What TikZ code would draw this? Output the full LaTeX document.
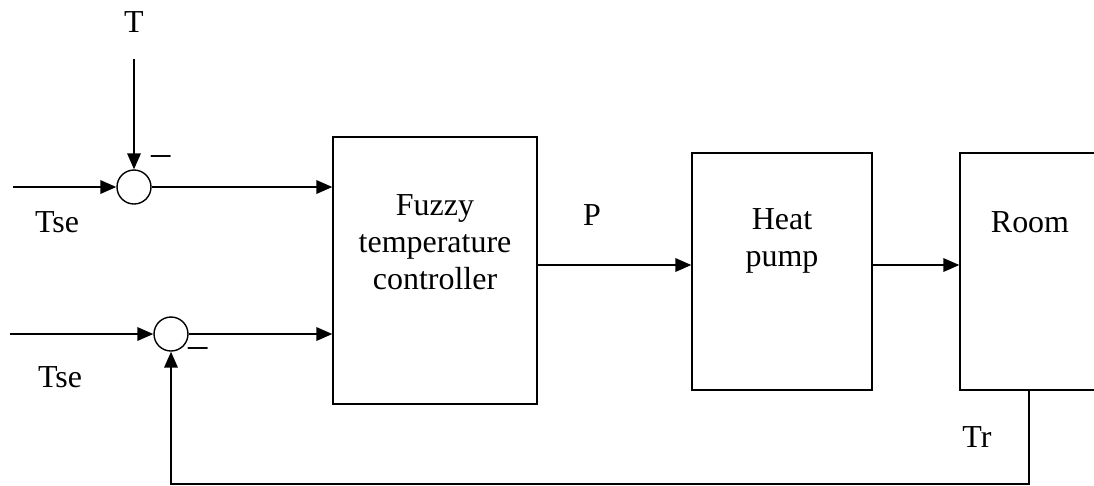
\documentclass[tikz,border=0pt]{standalone}
\usepackage{fontspec}
\setmainfont{Liberation Serif}
\usetikzlibrary{arrows.meta,positioning}

\begin{document}
\begin{tikzpicture}[x=0.02cm, y=-0.02cm,
    block/.style={rectangle, draw, line width=0.8pt, inner sep=0pt},
    sumnode/.style={circle, draw, line width=0.8pt, minimum size=0.68cm, inner sep=0pt},
    lbl/.style={font=\fontsize{18.2}{21}\selectfont, align=center, inner sep=0pt},
    minus/.style={font=\fontsize{22}{22}\selectfont, inner sep=0pt},
    arrow/.style={-{Triangle[length=0.32cm,width=0.27cm]}, line width=1.1pt}
]
    \useasboundingbox (0,0) rectangle (1094,485);

    % Blocks
    \node[block, minimum width=4.08cm, minimum height=5.34cm] (fuzzy) at (435,270.5) {};
    \node[block, minimum width=3.6cm, minimum height=4.74cm] (pump) at (782,271.5) {};
    \node[block, minimum width=2.76cm, minimum height=4.74cm] (room) at (1029,271.5) {};

    % Summing points
    \node[sumnode] (s1) at (134,187) {};
    \node[sumnode] (s2) at (171,334) {};

    % Texts
    \node[lbl] (fuzzytxt) at (435,242) {Fuzzy\\temperature\\controller};
    \node[lbl] (pumptxt) at (782,241) {Heat\\pump};
    \node[lbl] (roomtxt) at (1030,222) {Room};
    \node[lbl] (tlbl) at (134,22) {T};
    \node[lbl] (tse1) at (57,222) {Tse};
    \node[lbl] (tse2) at (60,377) {Tse};
    \node[lbl] (plbl) at (592,215) {P};
    \node[lbl] (trlbl) at (977,437) {Tr};
    \node[minus] (minus1) at (161,161) {–};
    \node[minus] (minus2) at (198,353) {–};

    % Free ends
    \coordinate (in1) at (13,187);
    \coordinate (in2) at (10,334);
    \coordinate (tin) at (134,59);

    % Arrows
    \draw[arrow] (in1) -- (s1);
    \draw[arrow] (tin) -- (s1);
    \draw[arrow] (s1) -- (s1 -| fuzzy.west);
    \draw[arrow] (in2) -- (s2);
    \draw[arrow] (s2) -- (s2 -| fuzzy.west);
    \draw[arrow] ([yshift=0.11cm]fuzzy.east) -- ([yshift=0.11cm]fuzzy.east -| pump.west);
    \draw[arrow] ([yshift=0.13cm]pump.east) -- ([yshift=0.13cm]room.west);
    \draw[arrow] (room.south) -- ++(0,93) -| (s2.south);
\end{tikzpicture}
\end{document}
